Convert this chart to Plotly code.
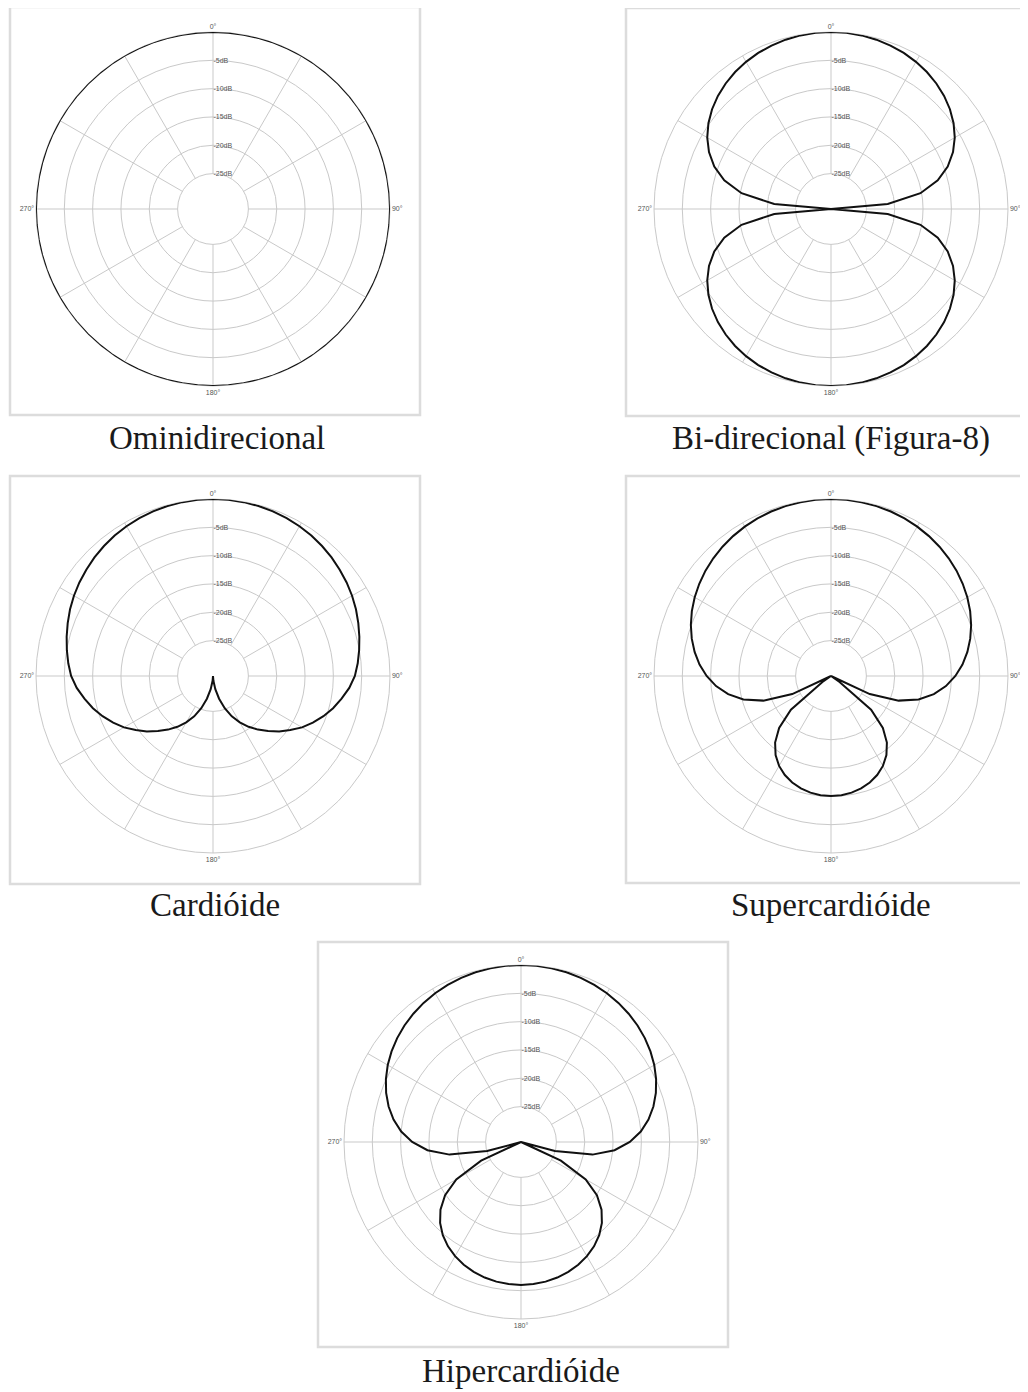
import plotly.graph_objects as go

# page body adds an 8px margin, so the figure is drawn 8px smaller and offset
OFF = 8
W, H = 1028 - OFF, 1392 - OFF

# ---- data: response in dB at 0..180 deg (5 deg steps); patterns are symmetric ----
ANGLES_HALF = list(range(0, 181, 5))

OMNI = [0.0] * 37

BIDIR = [0.0, -0.03, -0.13, -0.30, -0.54, -0.85, -1.25, -1.73, -2.32, -3.01,
         -3.84, -4.83, -6.02, -7.48, -9.32, -11.74, -15.21, -21.19, -31.25,
         -21.19, -15.21, -11.74, -9.32, -7.48, -6.02, -4.83, -3.84, -3.01,
         -2.32, -1.73, -1.25, -0.85, -0.54, -0.30, -0.13, -0.03, 0.0]

CARD = [0.0, -0.02, -0.08, -0.18, -0.32, -0.50, -0.72, -0.98, -1.30, -1.65,
        -2.05, -2.45, -2.90, -3.40, -3.95, -4.50, -5.05, -5.60, -6.20,
        -7.10, -8.20, -9.30, -10.50, -11.80, -13.10, -14.60, -16.00, -17.50,
        -18.90, -20.30, -21.80, -23.40, -25.20, -27.10, -28.90, -30.40, -31.25]

SUPER = [0.0, -0.02, -0.09, -0.20, -0.35, -0.55, -0.80, -1.10, -1.45, -1.86,
         -2.32, -2.86, -3.46, -4.14, -4.92, -5.80, -6.80, -7.95, -9.29,
         -10.88, -12.81, -15.24, -18.54, -23.70, -31.25, -29.41, -22.01, -18.30,
         -15.90, -14.19, -12.92, -11.96, -11.23, -10.70, -10.34, -10.13, -10.06]

HYPER = [0.0, -0.02, -0.10, -0.22, -0.40, -0.63, -0.92, -1.27, -1.68, -2.15,
         -2.71, -3.35, -4.08, -4.93, -5.91, -7.05, -8.40, -10.02, -12.04,
         -14.67, -18.43, -25.05, -31.25, -23.48, -18.06, -14.89, -12.69, -11.05,
         -9.77, -8.77, -7.97, -7.34, -6.84, -6.48, -6.22, -6.07, -6.02]

TITLES = ["Ominidirecional", "Bi-direcional (Figura-8)", "Cardióide",
          "Supercardióide", "Hipercardióide"]

RING_DB = [-5, -10, -15, -20, -25]
RING_LABELS = ["-5dB", "-10dB", "-15dB", "-20dB", "-25dB"]
ANGLE_TICKS = list(range(0, 360, 30))
ANGLE_LABELS = ["0°", "", "", "90°", "", "", "180°", "", "", "270°", "", ""]

PATTERNS = [OMNI, BIDIR, CARD, SUPER, HYPER]

# ---- layout geometry (page pixels) ----
CENTERS = [(213, 209), (831, 209), (213, 676), (831, 676), (521, 1142)]
RADIUS = 177
FRAMES = [(10, 7, 420, 415), (626, 8, 1024, 416), (10, 476, 420, 884),
          (626, 476, 1024, 883), (318, 942, 728, 1347)]
TITLE_POS = [(217, 438), (831, 438), (215, 905), (831, 905), (521, 1371)]

GRID = "#c9c9c9"
TICKFONT = dict(family="Liberation Sans", size=7, color="#555555")


def px(x):
    return (x - OFF) / W


def py(y):
    return 1 - (y - OFF) / H


def dom(cx, cy, r):
    return dict(x=[px(cx - r), px(cx + r)], y=[py(cy + r), py(cy - r)])


def full_circle(half):
    theta = ANGLES_HALF + [360 - a for a in reversed(ANGLES_HALF[:-1])]
    vals = list(half) + list(reversed(half[:-1]))
    return theta, vals


fig = go.Figure()
layout = {}

for i, (pat, (cx, cy)) in enumerate(zip(PATTERNS, CENTERS)):
    g_name = "polar" if i == 0 else f"polar{2 * i + 1}"
    d_name = f"polar{2 * i + 2}"
    d = dom(cx, cy, RADIUS)

    layout[g_name] = dict(
        domain=d, hole=0.2, bgcolor="white",
        radialaxis=dict(range=[-25, 0], tickvals=RING_DB, ticktext=RING_LABELS,
                        showgrid=True, gridcolor=GRID, gridwidth=1,
                        showline=False, ticks="", angle=90, tickangle=90,
                        side="clockwise", tickfont=TICKFONT),
        angularaxis=dict(rotation=90, direction="clockwise",
                         tickvals=ANGLE_TICKS, ticktext=ANGLE_LABELS,
                         showgrid=True, gridcolor=GRID, gridwidth=1,
                         showline=True, linecolor=GRID, linewidth=1,
                         ticks="", tickfont=TICKFONT),
    )
    layout[d_name] = dict(
        domain=d, bgcolor="rgba(0,0,0,0)",
        radialaxis=dict(visible=False, range=[-31.25, 0]),
        angularaxis=dict(visible=False, rotation=90, direction="clockwise"),
    )

    fig.add_trace(go.Scatterpolar(r=[], theta=[], subplot=g_name,
                                  showlegend=False, hoverinfo="skip"))
    theta, vals = full_circle(pat)
    fig.add_trace(go.Scatterpolar(r=vals, theta=theta, mode="lines",
                                  line=dict(color="#111111", width=2),
                                  cliponaxis=False, subplot=d_name,
                                  showlegend=False))

shapes = []
for (x0, y0, x1, y1) in FRAMES:
    shapes.append(dict(type="rect", xref="paper", yref="paper",
                       x0=px(x0), x1=px(x1), y0=py(y1), y1=py(y0),
                       line=dict(color="#dcdcdc", width=2.5),
                       fillcolor="rgba(0,0,0,0)", layer="below"))

annotations = []
for t, (tx, ty) in zip(TITLES, TITLE_POS):
    annotations.append(dict(text=t, x=px(tx), y=py(ty), xref="paper",
                            yref="paper", showarrow=False,
                            xanchor="center", yanchor="middle",
                            font=dict(family="Liberation Serif", size=33,
                                      color="#1a1a1a")))

fig.update_layout(width=W, height=H, margin=dict(l=0, r=0, t=0, b=0),
                  paper_bgcolor="white", showlegend=False,
                  shapes=shapes, annotations=annotations, **layout)

fig.write_html("out.html")
